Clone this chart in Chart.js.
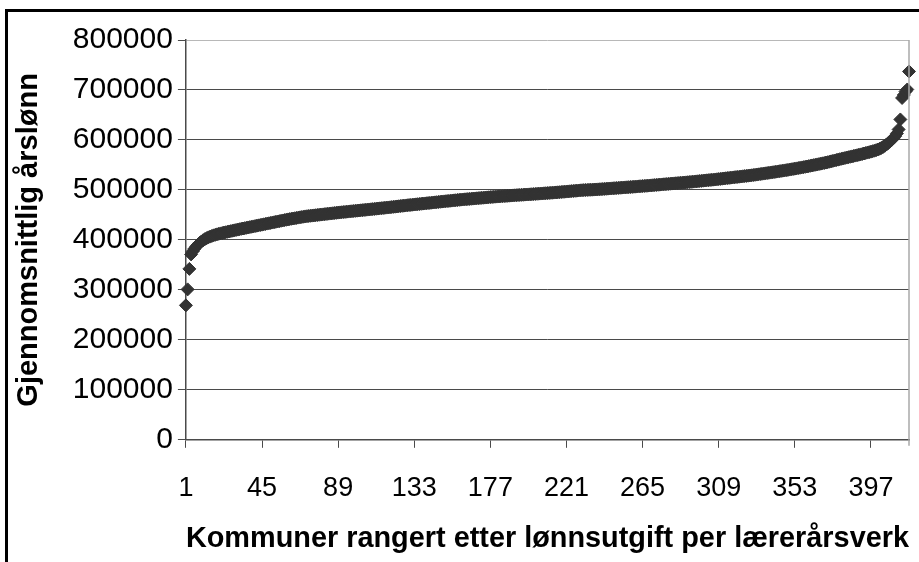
<!DOCTYPE html>
<html>
<head>
<meta charset="utf-8">
<script src="https://cdn.jsdelivr.net/npm/chart.js@4.4.1/dist/chart.umd.min.js"></script>
<style>
    html, body { margin: 0; padding: 0; background: #fff; overflow: hidden; }
    #wrap { position: relative; width: 919px; height: 562px; overflow: hidden; }
    #frame {
        position: absolute; left: 5px; top: 9px; width: 1000px; height: 1000px;
        border-left: 3px solid #000; border-top: 3px solid #000;
    }
    #myChart { position: absolute; left: 0; top: 0; }
</style>
</head>
<body>
<div id="wrap">
    <div id="frame"></div>
    <!-- lerretet er litt bredere enn vinduet: aksens sidepadding havner utenfor -->
    <canvas id="myChart" width="934" height="562"></canvas>
</div>
<script>
// Gjennomsnittlig årslønn per kommune, sortert stigende (419 kommuner)
const salaries = [
    269000, 301000, 342000, 371000, 377200, 382400, 386900, 390800, 394100, 396900,
    399400, 401600, 403500, 405100, 406600, 407900, 409100, 410200, 411200, 412100,
    413000, 413800, 414600, 415300, 416100, 416900, 417600, 418400, 419100, 419900,
    420600, 421400, 422100, 422800, 423500, 424200, 424900, 425600, 426300, 427000,
    427700, 428400, 429100, 429800, 430500, 431200, 431900, 432600, 433300, 434000,
    434700, 435400, 436100, 436800, 437500, 438200, 438900, 439600, 440300, 441000,
    441600, 442200, 442800, 443400, 444000, 444600, 445200, 445800, 446400, 447000,
    447400, 447800, 448200, 448600, 449000, 449400, 449800, 450200, 450600, 451000,
    451400, 451800, 452200, 452600, 453000, 453400, 453800, 454200, 454600, 455000,
    455300, 455700, 456000, 456400, 456700, 457100, 457400, 457800, 458100, 458500,
    458800, 459200, 459500, 459900, 460200, 460600, 460900, 461300, 461600, 462000,
    462400, 462700, 463100, 463500, 463800, 464200, 464600, 464900, 465300, 465700,
    466100, 466500, 466900, 467300, 467700, 468100, 468500, 468900, 469300, 469700,
    470000, 470400, 470800, 471100, 471500, 471800, 472200, 472600, 472900, 473300,
    473700, 474000, 474400, 474800, 475100, 475500, 475900, 476200, 476600, 477000,
    477300, 477700, 478000, 478400, 478700, 479100, 479400, 479800, 480100, 480500,
    480800, 481100, 481400, 481700, 482000, 482300, 482600, 482900, 483200, 483500,
    483800, 484100, 484400, 484700, 485000, 485300, 485600, 485900, 486200, 486500,
    486700, 487000, 487200, 487500, 487700, 488000, 488200, 488500, 488700, 489000,
    489200, 489400, 489700, 489900, 490100, 490300, 490600, 490800, 491000, 491200,
    491500, 491700, 492000, 492200, 492500, 492700, 492900, 493200, 493400, 493600,
    493900, 494200, 494400, 494700, 495000, 495200, 495500, 495800, 496100, 496400,
    496700, 497000, 497300, 497600, 497900, 498200, 498500, 498800, 499100, 499400,
    499600, 499800, 500000, 500200, 500300, 500500, 500700, 500900, 501100, 501300,
    501600, 501800, 502100, 502300, 502600, 502800, 503100, 503300, 503600, 503800,
    504100, 504300, 504600, 504800, 505100, 505300, 505600, 505800, 506100, 506400,
    506600, 506900, 507200, 507400, 507700, 508000, 508200, 508500, 508800, 509100,
    509400, 509700, 510000, 510300, 510600, 510900, 511200, 511500, 511800, 512100,
    512400, 512700, 513000, 513300, 513600, 513900, 514200, 514500, 514800, 515100,
    515400, 515700, 516100, 516400, 516700, 517100, 517400, 517800, 518100, 518500,
    518800, 519200, 519500, 519900, 520200, 520600, 520900, 521300, 521700, 522100,
    522500, 522900, 523300, 523700, 524100, 524500, 524900, 525300, 525700, 526100,
    526500, 526900, 527300, 527700, 528100, 528500, 528900, 529300, 529800, 530200,
    530700, 531200, 531700, 532200, 532700, 533200, 533700, 534200, 534700, 535200,
    535700, 536300, 536800, 537400, 537900, 538500, 539000, 539600, 540100, 540700,
    541300, 541900, 542500, 543100, 543700, 544300, 545000, 545600, 546200, 546900,
    547600, 548300, 549000, 549700, 550400, 551100, 551800, 552500, 553200, 553900,
    554700, 555500, 556400, 557200, 558100, 558900, 559800, 560600, 561500, 562300,
    563100, 563900, 564700, 565500, 566300, 567100, 567900, 568700, 569500, 570300,
    571100, 572000, 572900, 573800, 574700, 575600, 576500, 577500, 578500, 579600,
    580800, 582300, 584000, 586000, 588300, 591000, 593800, 596800, 600000, 603500,
    607500, 613000, 621000, 641000, 684000, 690000, 697000, 701000, 737000
];

// rangnummer 1..419 (kategoriaksen)
const ranks = salaries.map((v, i) => i + 1);

const labelEvery = 44;   // 1, 45, 89, ... 397
const yMax = 800000;
const yStep = 100000;

const axisTitleY = 'Gjennomsnittlig årslønn';
const axisTitleX = 'Kommuner rangert etter lønnsutgift per lærerårsverk';

const gridColor = '#4a4a4a';
const markColor = '#333333';

// grå ramme på høyre side av plottområdet
const rightBorder = {
    id: 'rightBorder',
    afterDraw(chart) {
        const a = chart.chartArea;
        const c = chart.ctx;
        c.save();
        c.strokeStyle = '#a8a8a8';
        c.lineWidth = 1.5;
        c.beginPath();
        c.moveTo(a.right, a.top);
        c.lineTo(a.right, a.bottom + 6);
        c.stroke();
        c.restore();
    }
};

document.addEventListener('DOMContentLoaded', function () {
    const ctx = document.getElementById('myChart').getContext('2d');

    new Chart(ctx, {
        type: 'line',
        data: {
            labels: ranks,
            datasets: [{
                label: axisTitleY,
                data: salaries,
                showLine: false,
                pointStyle: 'rectRot',
                pointRadius: 6.5,
                pointBorderWidth: 1,
                pointBackgroundColor: markColor,
                pointBorderColor: markColor
            }]
        },
        options: {
            responsive: false,
            animation: false,
            devicePixelRatio: 1,
            layout: {
                padding: { left: 12, right: 0, top: 40, bottom: 6 }
            },
            plugins: {
                legend: { display: false },
                tooltip: { enabled: false }
            },
            scales: {
                x: {
                    type: 'category',
                    offset: false,
                    border: { color: gridColor, width: 1.5 },
                    grid: {
                        drawOnChartArea: false,
                        tickLength: 8,
                        color: function (c) {
                            return c.index % labelEvery === 0 ? gridColor : 'rgba(0,0,0,0)';
                        }
                    },
                    ticks: {
                        autoSkip: false,
                        maxRotation: 0,
                        minRotation: 0,
                        padding: 25,
                        color: '#000',
                        font: { family: 'Liberation Sans, Arial', size: 27 },
                        callback: function (value, index) {
                            return index % labelEvery === 0 ? this.getLabelForValue(value) : '';
                        }
                    },
                    title: {
                        display: true,
                        text: axisTitleX,
                        color: '#000',
                        padding: { top: -9, bottom: 0 },
                        font: { family: 'Liberation Sans, Arial', size: 29, weight: 'bold' }
                    }
                },
                y: {
                    min: 0,
                    max: yMax,
                    border: { color: gridColor, width: 1.5 },
                    grid: {
                        tickLength: 8,
                        color: function (c) {
                            return c.tick && c.tick.value === yMax ? '#b8b8b8' : gridColor;
                        },
                        tickColor: gridColor
                    },
                    ticks: {
                        stepSize: yStep,
                        padding: 5,
                        color: '#000',
                        font: { family: 'Liberation Sans, Arial', size: 30 },
                        callback: function (value) {
                            return String(value);
                        }
                    },
                    title: {
                        display: true,
                        text: axisTitleY,
                        color: '#000',
                        padding: { top: 0, bottom: 21 },
                        font: { family: 'Liberation Sans, Arial', size: 29, weight: 'bold' }
                    }
                }
            }
        },
        plugins: [rightBorder]
    });
});
</script>
</body>
</html>
